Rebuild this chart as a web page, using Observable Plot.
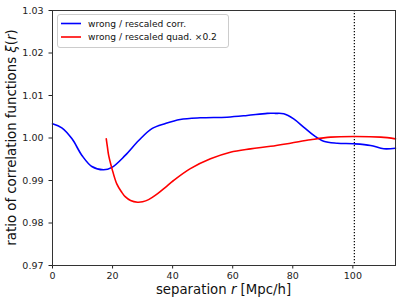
<!DOCTYPE html>
<html><head><meta charset="utf-8">
<script src="https://cdn.jsdelivr.net/npm/d3@7"></script>
<script src="https://cdn.jsdelivr.net/npm/@observablehq/plot@0.6"></script>
<style>body{margin:0;background:#fff}#chart svg{display:block}</style>
</head><body><div id="chart"></div>
<script>
const blueR = [0,3.1,6.5,9.8,13.1,17,19.8,24.2,28.7,33.1,37.6,42.5,49.2,58.1,64.8,71.5,74.2,77,80.3,83.7,87,90.3,94.8,100.3,105.9,110.3,114.2];
const blueV = [1.00334,1.0024,0.9998,0.9959,0.9933,0.99252,0.9931,0.9959,0.9994,1.0022,1.0034,1.00435,1.00475,1.0049,1.0053,1.0058,1.0058,1.0057,1.0045,1.0025,1.0006,0.99925,0.99878,0.99863,0.99824,0.99746,0.9976];
const redR = [17.9,18.3,18.7,19.8,21.4,23,24.2,26,28.3,30,32,35,37.6,40.3,45.9,52.6,59.2,65.9,72.6,79.2,85.9,92.6,100.3,109.3,114.2];
const redV = [0.9998,0.9978,0.9959,0.9928,0.9892,0.9873,0.9862,0.9853,0.9849,0.9850,0.9855,0.9869,0.9884,0.9900,0.9928,0.9951,0.99666,0.99745,0.99805,0.99878,0.99957,1.0002,1.00035,1.0002,0.9998];
const vline = [100.5];
const xTicks = [0,20,40,60,80,100];
const yTicks = [0.97,0.98,0.99,1.00,1.01,1.02,1.03];
const seriesNames = ["wrong / rescaled corr.","wrong / rescaled quad. \u00d70.2"];
const seriesColors = ["#0000ff","#ff0000"];

const blue = blueR.map((r,i)=>({r, v: blueV[i]}));
const red = redR.map((r,i)=>({r, v: redV[i]}));

const chart = Plot.plot({
  width: 405, height: 305,
  marginLeft: 52, marginRight: 10, marginTop: 10, marginBottom: 40,
  style: {fontFamily: "DejaVu Sans", fontSize: "9.5px", color: "#222", background: "#fff"},
  x: {domain: [0, 114.2], ticks: xTicks, tickSize: 3.5, tickPadding: 3.2, tickFormat: d => String(d), label: null},
  y: {domain: [0.97, 1.03], ticks: yTicks, tickSize: 3.5, tickFormat: d3.format(".2f"), label: null},
  marks: [
    Plot.ruleX(vline, {stroke: "#000", strokeWidth: 1.2, strokeDasharray: "1.2,1.8"}),
    Plot.line(blue, {x: "r", y: "v", stroke: seriesColors[0], strokeWidth: 1.6, curve: "catmull-rom"}),
    Plot.line(red, {x: "r", y: "v", stroke: seriesColors[1], strokeWidth: 1.6, curve: "catmull-rom"}),
    Plot.frame({stroke: "#333", strokeWidth: 1})
  ]
});
document.getElementById("chart").appendChild(chart);

const svg = d3.select(chart);

// place a sequence of styled pieces side by side (each its own text element)
function pieces(g, parts, size) {
  const els = parts.map(([t, italic]) => g.append("text").attr("text-anchor", "start")
    .attr("font-size", size).attr("fill", "#111").attr("font-style", italic ? "italic" : "normal").text(t));
  const widths = els.map(e => e.node().getComputedTextLength());
  const total = widths.reduce((a, b) => a + b, 0);
  let x = -total / 2;
  els.forEach((e, i) => { e.attr("x", x).attr("y", 0); x += widths[i]; });
}

const xg = svg.append("g").attr("transform", "translate(223.5,294.3)");
pieces(xg, [["separation\u00a0", false], ["r", true], ["\u00a0[Mpc/h]", false]], "13.3px");

const yg = svg.append("g").attr("transform", "translate(15.5,137.5) rotate(-90)");
pieces(yg, [["ratio of correlation functions\u00a0", false], ["\u03be", true], ["(", false], ["r", true], [")", false]], "13.3px");

// legend
const lg = svg.append("g").attr("text-anchor", "start");
lg.append("rect").attr("x", 57.5).attr("y", 14.5).attr("width", 171).attr("height", 33)
  .attr("rx", 2.5).attr("fill", "#fff").attr("fill-opacity", 0.8).attr("stroke", "#ccc");
seriesNames.forEach((name, i) => {
  const y = 23.5 + i * 13.5;
  lg.append("line").attr("x1", 61).attr("x2", 81).attr("y1", y).attr("y2", y)
    .attr("stroke", seriesColors[i]).attr("stroke-width", 1.6);
  lg.append("text").attr("x", 88).attr("y", y).attr("dy", "0.35em").attr("text-anchor", "start")
    .attr("font-size", "9.1px").attr("fill", "#111").text(name);
});
</script>
</body></html>
